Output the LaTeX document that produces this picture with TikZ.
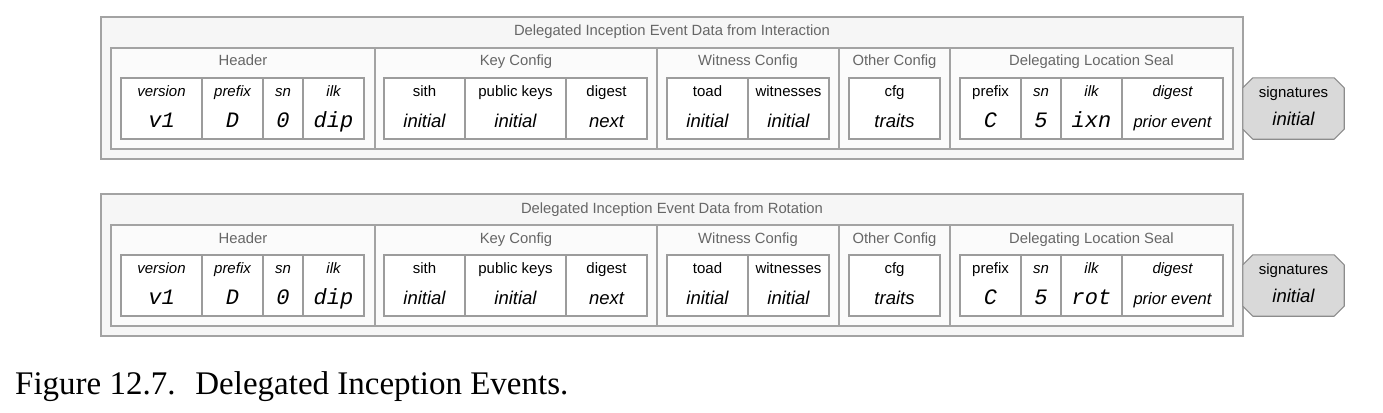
\documentclass[tikz,border=0pt]{standalone}
\usepackage{fontspec}
\setmainfont{Liberation Sans}
\newfontfamily\capfont{Liberation Serif}
\newfontfamily\codefont{Liberation Mono}
\usetikzlibrary{fit}
\definecolor{framegray}{HTML}{A3A3A3}
\definecolor{cellgray}{HTML}{9C9C9C}
\definecolor{outerfill}{HTML}{F6F6F6}
\definecolor{groupfill}{HTML}{FBFBFB}
\definecolor{titlegray}{HTML}{666666}
\definecolor{sigfill}{HTML}{D9D9D9}
\definecolor{sigdraw}{HTML}{8C8C8C}
\newcommand{\mono}[1]{{\codefont\itshape\fontsize{22}{24}\selectfont #1}}
\newcommand{\monoup}[1]{{\codefont\fontsize{22}{24}\selectfont #1}}
\newcommand{\smallval}[1]{{\fontsize{16.5}{18}\selectfont #1}}

\begin{document}
\begin{tikzpicture}[x=1pt, y=-1pt,
  outerbox/.style={draw=framegray, fill=outerfill, line width=1.3pt, inner sep=0pt},
  groupbox/.style={draw=framegray, fill=groupfill, line width=1.3pt, inner sep=0pt},
  cellbox/.style={draw=cellgray, fill=white, line width=1.1pt, inner sep=0pt},
  title/.style={anchor=base, inner sep=0pt, text=titlegray, font=\fontsize{14.8}{16}\selectfont},
  lbl/.style={anchor=base, inner sep=0pt, font=\fontsize{15}{16}\selectfont},
  val/.style={anchor=base, inner sep=0pt, font=\fontsize{18.5}{20}\selectfont\itshape},
  sigbox/.style={inner sep=0pt, minimum width=101pt, minimum height=61pt},
  sigshape/.style={draw=sigdraw, fill=sigfill, line width=1.1pt, line join=round}]
  \useasboundingbox (0,0) rectangle (1383,412);
  \foreach \yy/\src/\ilkval [count=\r] in {0/Interaction/ixn, 177/Rotation/rot} {
    \node[outerbox, fit={(101,17+\yy) (1243,159+\yy)}] (evt\r) {};
    \node[title] (evt\r-t) at (672,36+\yy) {Delegated Inception Event Data from \src};
    \foreach \a/\b/\name [count=\g] in {111/375/Header, 375/657/Key Config, 657/839/Witness Config,
        839/950/Other Config, 950/1233/Delegating Location Seal} {
      \node[groupbox, fit={(\a,48+\yy) (\b,149+\yy)}] (grp\r-\g) {};
      \node[title] (grp\r-\g-t) at (\a/2+\b/2,66+\yy) {\name};
    }
    \foreach \a/\b/\lab/\val [count=\c] in {
        121/202/{\itshape version}/{\mono{v1}},
        202/263/{\itshape prefix}/{\mono{D}},
        263/303/{\itshape sn}/{\mono{0}},
        303/364/{\itshape ilk}/{\mono{dip}},
        384/465/sith/initial,
        465/566/public keys/initial,
        566/647/digest/next,
        667/748/toad/initial,
        748/829/witnesses/initial,
        849/940/cfg/traits,
        960/1021/prefix/{\mono{C}},
        1021/1061/{\itshape sn}/{\mono{5}},
        1061/1122/{\itshape ilk}/{\monoup{\ilkval}},
        1122/1223/{\itshape digest}/{\smallval{prior event}}} {
      \node[cellbox, fit={(\a,78+\yy) (\b,139+\yy)}] (cell\r-\c) {};
      \node[lbl] (cell\r-\c-l) at (\a/2+\b/2,96+\yy) {\lab};
      \node[val] (cell\r-\c-v) at (\a/2+\b/2,127+\yy) {\val};
    }
    \node[sigbox] (sig\r) at (1293.5,108.5+\yy) {};
    \path[sigshape] ([xshift=10pt]sig\r.north west) -- ([xshift=-10pt]sig\r.north east)
      -- ([yshift=-10pt]sig\r.north east) -- ([yshift=10pt]sig\r.south east)
      -- ([xshift=-10pt]sig\r.south east) -- ([xshift=10pt]sig\r.south west)
      -- ([yshift=10pt]sig\r.south west) -- ([yshift=-10pt]sig\r.north west) -- cycle;
    \node[lbl] (sig\r-l) at (1293.5,97+\yy) {signatures};
    \node[val] (sig\r-v) at (1293.5,125+\yy) {initial};
  }
  \node[anchor=base west, inner sep=0pt, font=\capfont\fontsize{33}{36}\selectfont] (caption)
    at (15,394) {Figure 12.7.\hspace{0.6em}Delegated Inception Events.};
\end{tikzpicture}
\end{document}
